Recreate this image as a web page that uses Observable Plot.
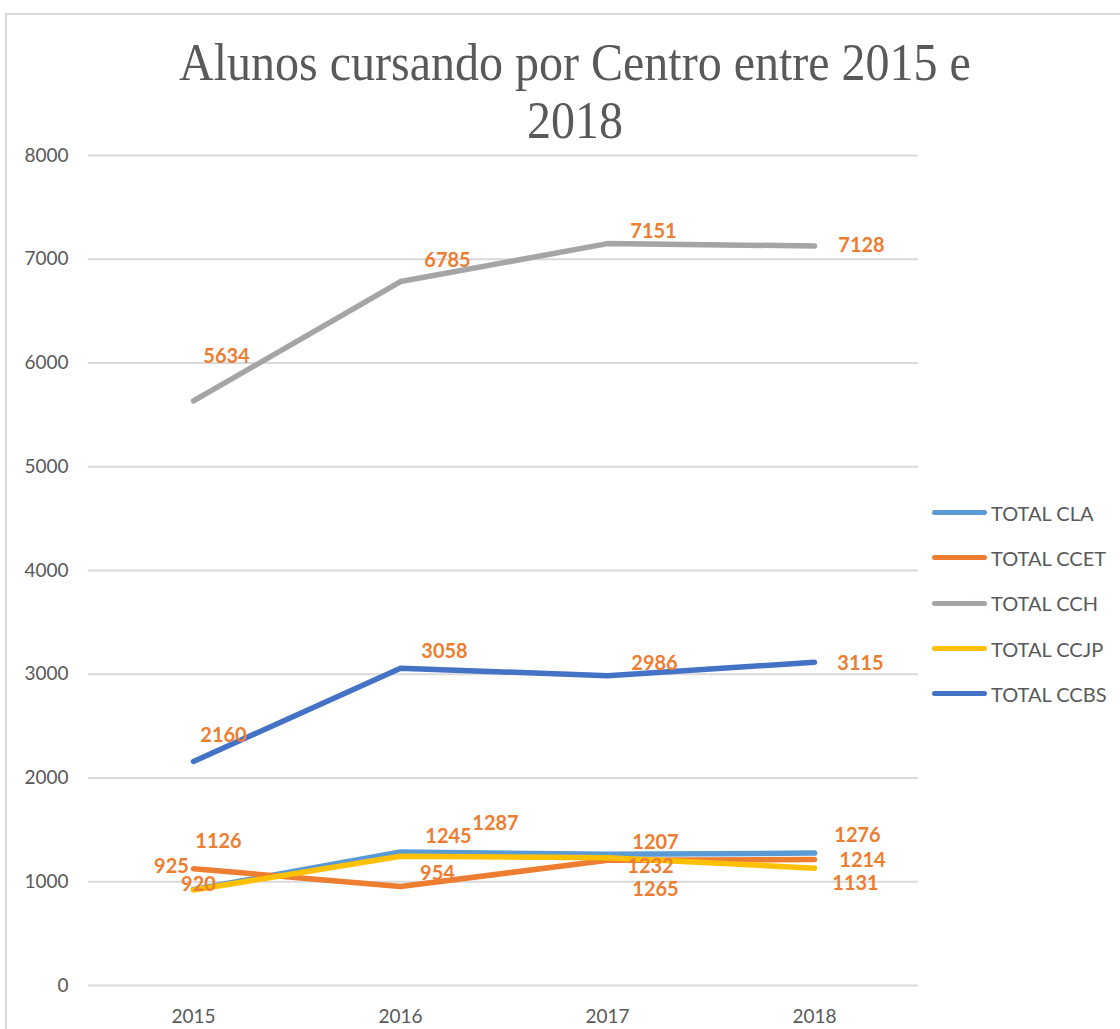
<!DOCTYPE html>
<html>
<head>
<meta charset="utf-8">
<script src="https://cdn.jsdelivr.net/npm/d3@7"></script>
<script src="https://cdn.jsdelivr.net/npm/@observablehq/plot@0.6"></script>
<style>
  html, body { margin: 0; padding: 0; background: #fff; }
  #wrap { position: relative; width: 1120px; height: 1029px; overflow: hidden; background: #fff; }
  #frame { position: absolute; left: 5px; top: 13px; width: 1200px; height: 1100px; border: 2px solid #d9d9d9; box-sizing: border-box; }
  #title { position: absolute; left: 0; top: 34px; width: 1150px; text-align: center; font-family: "Liberation Serif", "Times New Roman", "DejaVu Serif", serif; font-size: 48px; line-height: 53px; color: #595959; transform: scaleY(1.08); transform-origin: top; }
  #chart { position: absolute; left: 0; top: 140px; }
  #legend { position: absolute; left: 932px; top: 490px; font-family: Lato, "Open Sans", sans-serif; font-size: 20px; color: #595959; }
  .li { display: flex; align-items: center; height: 45.3px; }
  .sw { width: 55px; height: 5px; border-radius: 3px; margin-right: 4px; }
</style>
</head>
<body>
<div id="wrap">
  <div id="frame"></div>
  <div id="title">Alunos cursando por Centro entre 2015 e<br>2018</div>
  <div id="chart"></div>
  <div id="legend"></div>
</div>
<script>
const years = ["2015", "2016", "2017", "2018"];
const seriesNames = ["TOTAL CLA", "TOTAL CCET", "TOTAL CCH", "TOTAL CCJP", "TOTAL CCBS"];
const seriesColors = ["#5B9BD5", "#ED7D31", "#A5A5A5", "#FFC000", "#4472C4"];
const cla  = [925, 1287, 1265, 1276];
const ccet = [1126, 954, 1207, 1214];
const cch  = [5634, 6785, 7151, 7128];
const ccjp = [920, 1245, 1232, 1131];
const ccbs = [2160, 3058, 2986, 3115];
const yTicks = [0, 1000, 2000, 3000, 4000, 5000, 6000, 7000, 8000];
// pixel nudges of each data label from its point (dx, dy), per series
const labelNudges = [
  [[-22, -23], [95, -28], [48, 35], [43, -18]],
  [[25, -27], [37, -13], [48, -18], [48, 1]],
  [[33, -44], [47, -21], [46, -12], [47, 0]],
  [[5, -5], [48, -20], [43, 9], [41, 15]],
  [[30, -26], [44, -17], [47, -12], [46, 1]]
];

const allSeries = [cla, ccet, cch, ccjp, ccbs];
const rows = [];
allSeries.forEach((vals, si) => {
  vals.forEach((v, yi) => rows.push({ series: seriesNames[si], year: years[yi], value: v, si, yi }));
});

const lineMarks = seriesNames.map((name, si) =>
  Plot.line(rows.filter(d => d.si === si), {
    x: "year", y: "value", stroke: seriesColors[si], strokeWidth: 5.5,
    strokeLinecap: "round", strokeLinejoin: "round"
  })
);

const labelMarks = rows.map(d =>
  Plot.text([d], {
    x: "year", y: "value", text: d => String(d.value),
    dx: labelNudges[d.si][d.yi][0], dy: labelNudges[d.si][d.yi][1],
    fill: "#ED7D31", fontWeight: "bold", fontSize: 20,
    fontFamily: "Lato, 'Open Sans', sans-serif"
  })
);

const chart = Plot.plot({
  width: 1120,
  height: 889,
  marginLeft: 88,
  marginRight: 202,
  marginTop: 15,
  marginBottom: 44,
  style: { fontFamily: "Lato, 'Open Sans', sans-serif", fontSize: "19px", color: "#595959", background: "transparent" },
  x: { type: "point", domain: years, padding: 0.5, label: null },
  y: { domain: [0, 8000], ticks: yTicks, label: null },
  marks: [
    Plot.ruleY(yTicks, { stroke: "#d9d9d9", strokeWidth: 2 }),
    Plot.axisY({ ticks: yTicks, tickFormat: d => String(d), tickSize: 0, tickPadding: 20, label: null, fill: "#595959", fontSize: 19 }),
    Plot.axisX({ tickSize: 0, tickPadding: 24, label: null, fill: "#595959", fontSize: 19 }),
    ...lineMarks,
    ...labelMarks
  ]
});
document.getElementById("chart").appendChild(chart);

const legend = document.getElementById("legend");
seriesNames.forEach((name, i) => {
  const row = document.createElement("div");
  row.className = "li";
  const sw = document.createElement("div");
  sw.className = "sw";
  sw.style.background = seriesColors[i];
  const t = document.createElement("span");
  t.textContent = name;
  row.appendChild(sw);
  row.appendChild(t);
  legend.appendChild(row);
});
</script>
</body>
</html>
